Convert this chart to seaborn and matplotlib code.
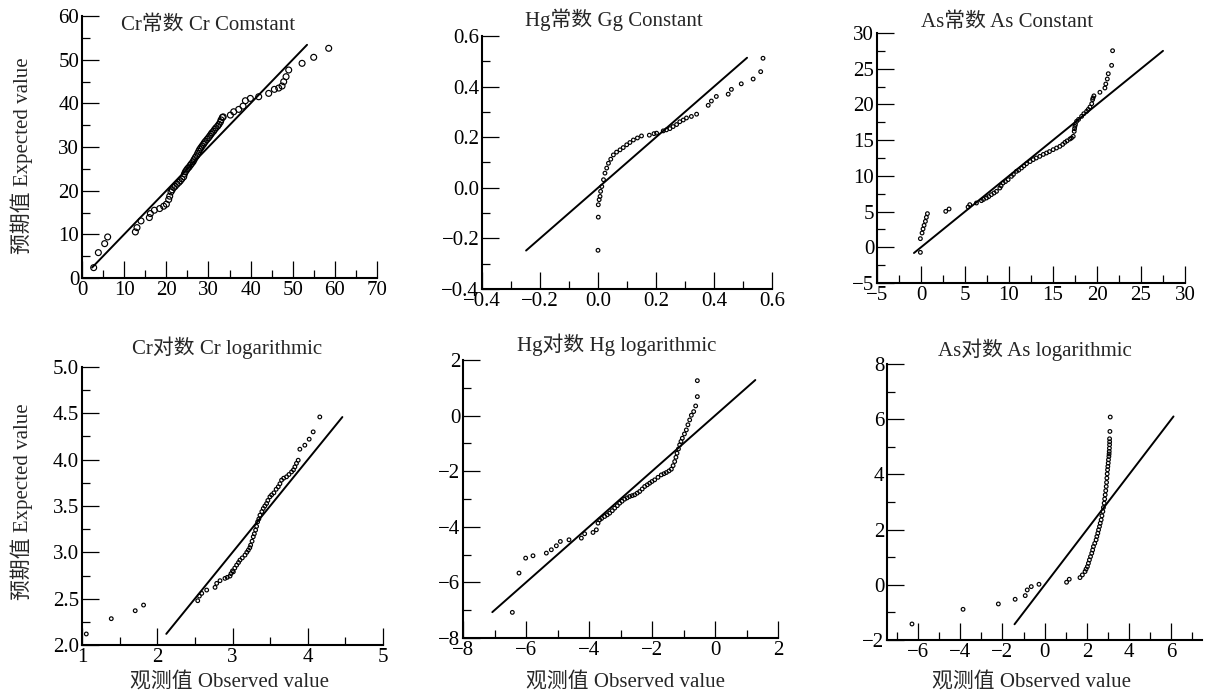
import numpy as np
import pandas as pd
import matplotlib
matplotlib.use("Agg")
import matplotlib.pyplot as plt
from matplotlib.ticker import MultipleLocator
import seaborn as sns

# ---- data (observed, expected) ----
cr_obs = [2.77, 3.88, 5.38, 6.09, 12.66, 13.05, 14.00, 15.98, 16.22, 17.17, 18.43, 19.38,
          20.02, 20.57, 20.81, 21.12, 21.4, 21.76, 22.1, 22.55, 23.0, 23.34, 23.7, 24.13,
          24.3, 24.53, 24.8, 25.08, 25.4, 25.71, 26.0, 26.34, 26.6, 26.90, 27.2, 27.45,
          27.7, 27.93, 28.2, 28.48, 28.8, 29.03, 29.3, 29.67, 30.0, 30.30, 30.6, 30.85,
          31.2, 31.49, 31.8, 32.20, 32.5, 32.83, 33.0, 33.31, 33.5, 35.21, 36.00, 37.18,
          38.21, 38.77, 39.95, 41.93, 44.30, 45.65, 46.68, 47.47, 47.86, 48.42, 49.05,
          52.22, 54.98, 58.54]
cr_exp = [2.37, 5.81, 7.87, 9.40, 10.55, 11.54, 13.07, 13.84, 14.76, 15.52, 15.90, 16.44,
          16.90, 17.97, 18.73, 19.72, 20.2, 20.72, 21.0, 21.48, 21.9, 22.25, 22.7, 23.17,
          23.8, 24.31, 24.7, 25.08, 25.4, 25.84, 26.2, 26.61, 27.1, 27.60, 28.0, 28.52,
          29.0, 29.43, 29.8, 30.20, 30.6, 30.96, 31.3, 31.73, 32.1, 32.49, 32.9, 33.26,
          33.6, 34.02, 34.4, 34.79, 35.2, 35.70, 36.2, 36.77, 36.9, 37.31, 38.07, 38.61,
          39.37, 40.60, 41.13, 41.51, 42.28, 43.20, 43.50, 43.96, 44.95, 46.10, 47.63,
          49.16, 50.54, 52.60]
cr_line = [2.4, 53.4]

hg_obs = [0.0, 0.001, 0.001, 0.004, 0.007, 0.009, 0.013, 0.019, 0.024, 0.030, 0.036, 0.044,
          0.053, 0.064, 0.076, 0.087, 0.099, 0.110, 0.122, 0.136, 0.150, 0.177, 0.193, 0.202,
          0.225, 0.236, 0.248, 0.259, 0.271, 0.282, 0.294, 0.305, 0.322, 0.340, 0.380, 0.391,
          0.408, 0.449, 0.460, 0.494, 0.535, 0.561, 0.569]
hg_exp = [-0.247, -0.116, -0.067, -0.047, -0.034, -0.014, 0.005, 0.032, 0.058, 0.078, 0.097,
          0.113, 0.130, 0.141, 0.150, 0.159, 0.170, 0.179, 0.189, 0.197, 0.205, 0.208, 0.214,
          0.216, 0.225, 0.229, 0.234, 0.242, 0.250, 0.261, 0.268, 0.276, 0.282, 0.291, 0.326,
          0.343, 0.361, 0.370, 0.389, 0.411, 0.430, 0.459, 0.512]
hg_line = [-0.248, 0.514]

as_obs = [-0.07, -0.07, 0.12, 0.23, 0.35, 0.50, 0.61, 0.73, 2.81, 3.19, 5.35, 5.54, 6.30,
          6.87, 7.1, 7.44, 7.7, 8.0, 8.3, 8.58, 8.96, 9.1, 9.33, 9.6, 9.9, 10.28, 10.5,
          10.85, 11.1, 11.42, 11.7, 11.99, 12.4, 12.75, 13.1, 13.5, 13.9, 14.26, 14.6,
          15.02, 15.4, 15.78, 16.1, 16.35, 16.6, 16.92, 17.1, 17.3, 17.41, 17.45, 17.49,
          17.55, 17.68, 17.9, 18.25, 18.5, 18.82, 19.0, 19.2, 19.4, 19.5, 19.55, 19.65,
          20.33, 20.9, 21.0, 21.17, 21.28, 21.66, 21.77]
as_exp = [-0.71, 1.21, 2.0, 2.56, 3.07, 3.63, 4.19, 4.71, 5.03, 5.36, 5.64, 5.97, 6.20,
          6.53, 6.7, 6.90, 7.1, 7.37, 7.6, 7.83, 8.30, 8.6, 9.0, 9.2, 9.47, 9.93, 10.2,
          10.63, 10.8, 11.1, 11.4, 11.7, 12.0, 12.27, 12.5, 12.73, 13.0, 13.2, 13.4,
          13.67, 13.9, 14.13, 14.4, 14.69, 14.9, 15.16, 15.3, 15.53, 16.23, 16.6, 16.93,
          17.2, 17.63, 17.9, 18.33, 18.7, 19.03, 19.3, 19.64, 20.1, 20.67, 20.9, 21.2,
          21.7, 22.3, 22.86, 23.56, 24.3, 25.47, 27.52]
as_line = [-0.8, 27.5]

crlog_obs = [1.057, 1.389, 1.707, 1.818, 2.538, 2.560, 2.591, 2.657, 2.768, 2.790, 2.834,
             2.900, 2.93, 2.967, 2.98, 3.0, 3.011, 3.03, 3.055, 3.08, 3.099, 3.13, 3.166,
             3.19, 3.210, 3.23, 3.241, 3.26, 3.276, 3.29, 3.307, 3.32, 3.334, 3.35, 3.365,
             3.39, 3.409, 3.43, 3.453, 3.47, 3.497, 3.52, 3.550, 3.58, 3.608, 3.63, 3.652,
             3.68, 3.718, 3.75, 3.785, 3.81, 3.829, 3.85, 3.873, 3.895, 3.961, 4.019,
             4.072, 4.160]
crlog_exp = [2.119, 2.284, 2.370, 2.431, 2.478, 2.528, 2.557, 2.593, 2.622, 2.665, 2.694,
             2.719, 2.73, 2.744, 2.77, 2.80, 2.790, 2.83, 2.862, 2.89, 2.916, 2.94, 2.970,
             3.00, 3.024, 3.05, 3.078, 3.12, 3.168, 3.20, 3.240, 3.28, 3.329, 3.36, 3.401,
             3.44, 3.473, 3.50, 3.527, 3.56, 3.599, 3.62, 3.642, 3.68, 3.707, 3.74, 3.779,
             3.80, 3.815, 3.84, 3.868, 3.89, 3.922, 3.96, 3.994, 4.113, 4.156, 4.221,
             4.300, 4.461]
crlog_line = [2.12, 4.46]

hglog_obs = [-6.434, -6.222, -6.011, -5.778, -5.354, -5.196, -5.037, -4.910, -4.635, -4.243,
             -4.138, -3.873, -3.767, -3.714, -3.661, -3.60, -3.503, -3.42, -3.344, -3.26,
             -3.185, -3.10, -3.026, -2.95, -2.868, -2.79, -2.709, -2.63, -2.550, -2.47,
             -2.392, -2.31, -2.233, -2.15, -2.074, -2.0, -1.915, -1.81, -1.704, -1.62,
             -1.545, -1.46, -1.386, -1.33, -1.280, -1.24, -1.206, -1.16, -1.122, -1.08,
             -1.037, -0.97, -0.910, -0.86, -0.804, -0.751, -0.677, -0.614, -0.561, -0.561]
hglog_exp = [-7.078, -5.665, -5.126, -5.042, -4.946, -4.826, -4.683, -4.527, -4.467, -4.407,
             -4.251, -4.204, -4.108, -3.868, -3.749, -3.70, -3.629, -3.57, -3.509, -3.42,
             -3.329, -3.24, -3.150, -3.08, -3.006, -2.96, -2.910, -2.88, -2.850, -2.79,
             -2.731, -2.64, -2.551, -2.49, -2.431, -2.37, -2.311, -2.22, -2.132, -2.09,
             -2.048, -1.99, -1.928, -1.80, -1.653, -1.50, -1.353, -1.20, -1.054, -0.93,
             -0.814, -0.66, -0.515, -0.33, -0.156, 0.012, 0.144, 0.347, 0.683, 1.257]
hglog_line = [-7.07, 1.28]

aslog_obs = [-6.287, -3.868, -2.196, -1.401, -0.923, -0.828, -0.637, -0.271, 1.035, 1.162,
             1.671, 1.783, 1.910, 1.96, 2.021, 2.07, 2.117, 2.17, 2.228, 2.27, 2.308, 2.37,
             2.435, 2.47, 2.515, 2.55, 2.594, 2.63, 2.674, 2.71, 2.753, 2.78, 2.817, 2.84,
             2.865, 2.89, 2.913, 2.93, 2.944, 2.96, 2.976, 2.99, 3.008, 3.02, 3.040, 3.05,
             3.056, 3.065, 3.072, 3.075, 3.072, 3.088, 3.104]
aslog_exp = [-1.420, -0.888, -0.694, -0.525, -0.392, -0.186, -0.066, 0.019, 0.092, 0.201,
             0.261, 0.358, 0.479, 0.57, 0.660, 0.78, 0.902, 1.02, 1.144, 1.26, 1.386, 1.50,
             1.628, 1.75, 1.869, 1.99, 2.111, 2.23, 2.353, 2.50, 2.655, 2.80, 2.958, 3.11,
             3.260, 3.41, 3.562, 3.71, 3.865, 4.02, 4.167, 4.29, 4.409, 4.53, 4.651, 4.74,
             4.832, 4.95, 5.074, 5.18, 5.291, 5.557, 6.078]
aslog_line = [-1.43, 6.1]

titles = ['Cr常数 Cr Comstant', 'Hg常数 Gg Constant', 'As常数 As Constant',
          'Cr对数 Cr logarithmic', 'Hg对数 Hg logarithmic', 'As对数 As logarithmic']
ylabel = '预期值 Expected value'
xlabel = '观测值 Observed value'

sns.set_style("ticks")
plt.rcParams['font.family'] = ['Liberation Serif', 'Noto Sans CJK SC']
plt.rcParams['axes.unicode_minus'] = True

W, H = 1205, 697
fig = plt.figure(figsize=(W / 100, H / 100), dpi=100)


def add_ax(l, t, r, b):
    return fig.add_axes([l / W, 1 - b / H, (r - l) / W, (b - t) / H])


def draw_panel(ax, xs, ys, line, xlim, ylim, xmaj, ymaj, size):
    df = pd.DataFrame({'obs': xs, 'exp': ys})
    sns.lineplot(x=line, y=line, ax=ax, color='black', linewidth=1.4, sort=False)
    sns.scatterplot(data=df, x='obs', y='exp', ax=ax, marker='o', s=size,
                    facecolor='none', edgecolor='black', linewidth=0.85)
    ax.set_xlim(xlim)
    ax.set_ylim(ylim)
    ax.xaxis.set_major_locator(MultipleLocator(xmaj))
    ax.xaxis.set_minor_locator(MultipleLocator(xmaj / 2))
    ax.yaxis.set_major_locator(MultipleLocator(ymaj))
    ax.yaxis.set_minor_locator(MultipleLocator(ymaj / 2))
    ax.set_xlabel('')
    ax.set_ylabel('')
    sns.despine(ax=ax)
    ax.tick_params(which='both', direction='in', width=0.9, labelsize=15, pad=2,
                   color='black', labelcolor='black')
    ax.tick_params(which='major', length=12)
    ax.tick_params(which='minor', length=6)
    for s in ['left', 'bottom']:
        ax.spines[s].set_linewidth(1.5)
        ax.spines[s].set_color('black')
    ax.set_facecolor('white')


ax1 = add_ax(82, 16, 377, 278)
draw_panel(ax1, cr_obs, cr_exp, cr_line, (0, 70), (0, 60), 10, 10, 18)
ax2 = add_ax(482, 36, 772, 289)
draw_panel(ax2, hg_obs, hg_exp, hg_line, (-0.4, 0.6), (-0.4, 0.6), 0.2, 0.2, 7)
ax3 = add_ax(877, 33, 1185, 283)
draw_panel(ax3, as_obs, as_exp, as_line, (-5, 30), (-5, 30), 5, 5, 7)
ax4 = add_ax(82, 367, 383, 645)
draw_panel(ax4, crlog_obs, crlog_exp, crlog_line, (1, 5), (2, 5), 1, 0.5, 7)
ax5 = add_ax(463, 360, 778, 638)
draw_panel(ax5, hglog_obs, hglog_exp, hglog_line, (-8, 2), (-8, 2), 2, 2, 7)
ax6 = add_ax(887, 364, 1202, 640)
draw_panel(ax6, aslog_obs, aslog_exp, aslog_line, (-7.47, 7.45), (-2, 8), 2, 2, 7)

# titles and axis labels placed by pixel position
title_pos = [(208, 25), (614, 20), (1007, 22), (227, 348), (617, 345), (1035, 350)]
for txt, (cx, cy) in zip(titles, title_pos):
    fig.text(cx / W, 1 - cy / H, txt, ha='center', va='center', fontsize=15)

for cy in [156, 502]:
    fig.text(22 / W, 1 - cy / H, ylabel, ha='center', va='center', rotation=90, fontsize=15)
for cx in [229, 626, 1032]:
    fig.text(cx / W, 1 - 682 / H, xlabel, ha='center', va='center', fontsize=15)

fig.savefig('out.png', dpi=100, facecolor='white')
